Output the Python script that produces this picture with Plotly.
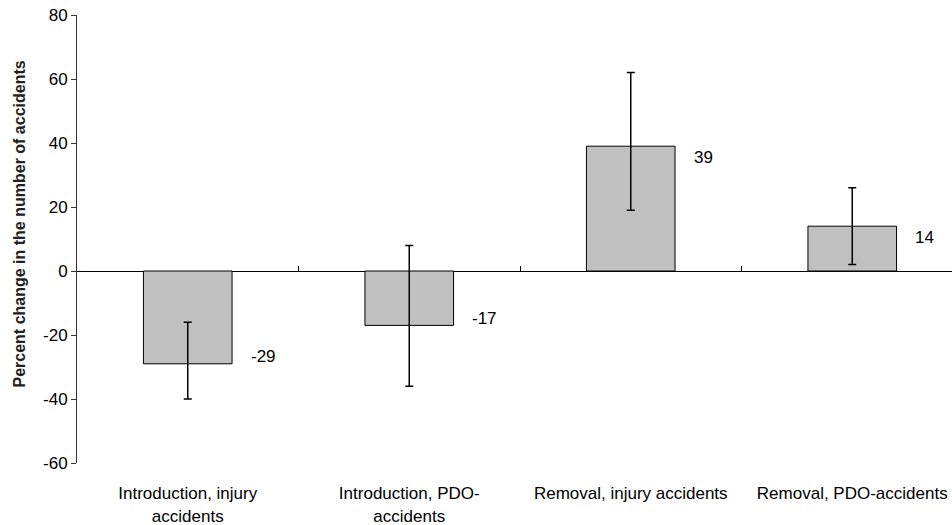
import plotly.graph_objects as go

categories = ["Introduction, injury<br>accidents", "Introduction, PDO-<br>accidents",
              "Removal, injury accidents", "Removal, PDO-accidents"]
values = [-29, -17, 39, 14]
ci_upper = [-16, 8, 62, 26]
ci_lower = [-40, -36, 19, 2]
y_ticks = [-60, -40, -20, 0, 20, 40, 60, 80]
y_tick_text = ["-60", "-40", "-20", "0", "20", "40", "60", "80"]

err_plus = [u - v for u, v in zip(ci_upper, values)]
err_minus = [v - l for v, l in zip(values, ci_lower)]

FONT = "Liberation Sans, Arial, sans-serif"

W, H = 952, 525
L, T, B, R = 77, 15, 62, 0
plot_w = W - L - R
plot_h = H - T - B

fig = go.Figure()
fig.add_trace(go.Bar(
    x=categories, y=values, width=0.40,
    marker=dict(color="#C0C0C0", line=dict(color="#000000", width=1)),
    error_y=dict(type="data", symmetric=False, array=err_plus, arrayminus=err_minus,
                 color="#000000", thickness=1.5, width=4),
    showlegend=False, hoverinfo="skip",
))
# invisible helper trace for the category boundary ticks on the zero line
fig.add_trace(go.Scatter(x=[0.5, 1.5, 2.5], y=[0, 0, 0], xaxis="x2", mode="markers",
                         marker=dict(opacity=0), showlegend=False, hoverinfo="skip"))

for i, v in enumerate(values):
    fig.add_annotation(x=i, y=v, xref="x", yref="y", text=str(v), showarrow=False,
                       xanchor="left", yanchor="middle", xshift=61,
                       yshift=-11 if v > 0 else 7,
                       font=dict(family=FONT, size=17, color="#000000"))

fig.add_annotation(x=-58 / plot_w, y=(plot_h - 209.5) / plot_h, xref="paper", yref="paper",
                   text="<b>Percent change in the number of accidents</b>",
                   textangle=-90, showarrow=False, xanchor="center", yanchor="middle",
                   font=dict(family=FONT, size=16, color="#222222"))

ymin, ymax = -60, 80
xr = [-0.5, -0.5 + plot_w / 221.5]
fig.update_layout(
    width=W, height=H,
    margin=dict(l=L, r=R, t=T, b=B, pad=0, autoexpand=False),
    paper_bgcolor="white", plot_bgcolor="white",
    font=dict(family=FONT, size=17, color="#000000"),
    xaxis=dict(type="category", range=xr, showgrid=False, zeroline=False,
               showline=False, ticks="outside", ticklen=15, tickcolor="rgba(0,0,0,0)",
               automargin=False, ticklabeloverflow="allow",
               tickfont=dict(family=FONT, size=17, color="#000000")),
    xaxis2=dict(overlaying="x", anchor="free", position=(0 - ymin) / (ymax - ymin),
                range=xr, tickvals=[0.5, 1.5, 2.5], ticks="inside", ticklen=5,
                tickcolor="#000000", tickwidth=1, showticklabels=False, showgrid=False,
                zeroline=False, showline=False, automargin=False),
    yaxis=dict(range=[ymin, ymax], tickvals=y_ticks, ticktext=y_tick_text, showgrid=False,
               zeroline=True, zerolinecolor="#000000", zerolinewidth=1,
               showline=True, linecolor="#333333", linewidth=1, automargin=False,
               ticks="outside", ticklen=5, tickcolor="#333333", ticklabeloverflow="allow",
               tickfont=dict(family=FONT, size=17, color="#000000")),
)

fig.write_html("out.html", config={"displayModeBar": False},
               post_script="document.body.style.margin='0';document.body.style.overflow='hidden';")
